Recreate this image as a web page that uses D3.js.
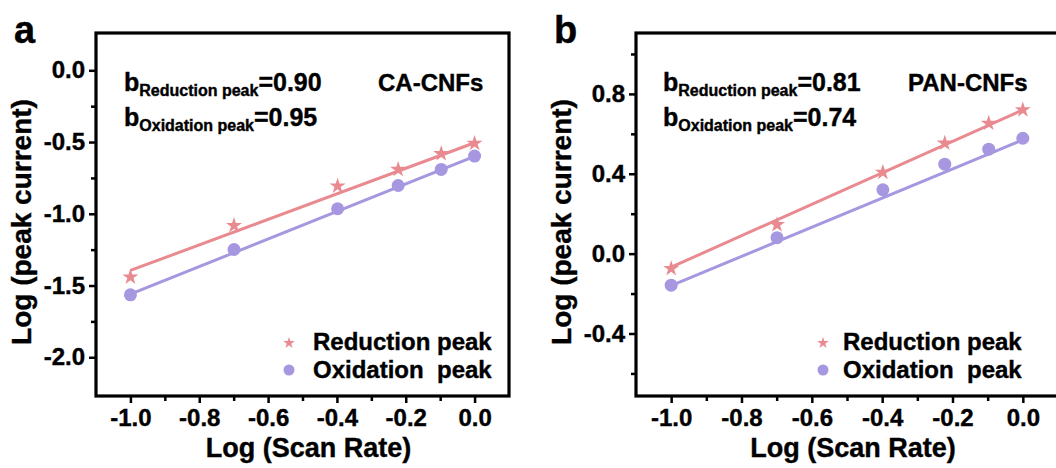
<!DOCTYPE html>
<html lang="en">
<meta charset="utf-8">
<title>Log peak current vs log scan rate</title>
<style>
body { margin: 0; background: #fff; }
svg { display: block; font-family: "Liberation Sans", Arial, sans-serif; font-weight: bold; }
svg text { stroke: #000; stroke-width: 0.4; paint-order: stroke; }
.axis text { font-family: "Liberation Sans", Arial, sans-serif; font-size: 24px; font-weight: bold; fill: #000; }
.axis line { stroke: #000; stroke-width: 2.5; }
.axis path.domain { stroke: none; }
</style>
<body>
<script src="https://d3js.org/d3.v7.min.js"></script>
<script>
// x values: log of the scan rate
var scanLog = [-1.0, -0.699, -0.398, -0.222, -0.097, 0.0]

// panel a, CA-CNFs
var caReduction = [-1.441, -1.082, -0.807, -0.691, -0.581, -0.509]
var caOxidation = [-1.565, -1.249, -0.965, -0.803, -0.691, -0.598]
var caFitReduction = [-1.395, -0.505]   // line value at x = -1 and x = 0
var caFitOxidation = [-1.560, -0.600]

// panel b, PAN-CNFs
var panReduction = [-0.075, 0.145, 0.407, 0.553, 0.653, 0.720]
var panOxidation = [-0.158, 0.080, 0.320, 0.448, 0.523, 0.578]
var panFitReduction = [-0.068, 0.720]
var panFitOxidation = [-0.160, 0.570]

var fitX = [-1.0, 0.0]
var xTicks = [-1.0, -0.8, -0.6, -0.4, -0.2, 0.0]
var xMinor = [-0.9, -0.7, -0.5, -0.3, -0.1]
var caYTicks = [0.0, -0.5, -1.0, -1.5, -2.0]
var caYMinor = [-0.25, -0.75, -1.25, -1.75]
var panYTicks = [0.8, 0.4, 0.0, -0.4]
var panYMinor = [1.0, 0.6, 0.2, -0.2, -0.6]

var bLabels = ["Reduction peak", "Oxidation  peak"]
var caBValues = ["0.90", "0.95"]
var panBValues = ["0.81", "0.74"]
var seriesNames = ["Reduction peak", "Oxidation  peak"]

var pink = "#e98a90", purple = "#a697e0"

var svg = d3.select("body").append("svg")
  .attr("width", 1056)
  .attr("height", 468)

var fmt = function(d) { return d.toFixed(1) }

function drawPanel(p) {
  var x = d3.scaleLinear().domain([-1.1, 0.1]).range([p.left, p.right])
  var y = d3.scaleLinear().domain(p.yDomain).range([396, 33])
  var g = svg.append("g")

  // minor ticks
  g.append("g").attr("class", "axis")
    .attr("transform", "translate(0,396)")
    .call(d3.axisBottom(x).tickValues(xMinor).tickSize(5).tickFormat(""))
  g.append("g").attr("class", "axis")
    .attr("transform", "translate(" + p.left + ",0)")
    .call(d3.axisLeft(y).tickValues(p.yMinor).tickSize(5).tickFormat(""))

  // major ticks
  g.append("g").attr("class", "axis")
    .attr("transform", "translate(0,396)")
    .call(d3.axisBottom(x).tickValues(xTicks).tickSize(7).tickPadding(6).tickFormat(fmt))
  g.append("g").attr("class", "axis")
    .attr("transform", "translate(" + p.left + ",0)")
    .call(d3.axisLeft(y).tickValues(p.yTicks).tickSize(7).tickPadding(4).tickFormat(fmt))

  // frame
  g.append("rect")
    .attr("x", p.left).attr("y", 33)
    .attr("width", p.right - p.left).attr("height", 363)
    .attr("fill", "none").attr("stroke", "#000").attr("stroke-width", 3.2)

  // fitted lines
  var line = d3.line().x(function(d) { return x(d[0]) }).y(function(d) { return y(d[1]) })
  g.append("path").datum(d3.zip(fitX, p.fitRed))
    .attr("d", line).attr("fill", "none").attr("stroke", pink).attr("stroke-width", 3)
  g.append("path").datum(d3.zip(fitX, p.fitOx))
    .attr("d", line).attr("fill", "none").attr("stroke", purple).attr("stroke-width", 3)

  // points
  var star = d3.symbol().type(d3.symbolStar).size(80)
  g.selectAll(".star").data(d3.zip(scanLog, p.red)).enter()
    .append("path")
    .attr("d", star)
    .attr("transform", function(d) { return "translate(" + x(d[0]) + "," + y(d[1]) + ")" })
    .attr("fill", pink)
  g.selectAll(".dot").data(d3.zip(scanLog, p.ox)).enter()
    .append("circle")
    .attr("cx", function(d) { return x(d[0]) })
    .attr("cy", function(d) { return y(d[1]) })
    .attr("r", 6.5)
    .attr("fill", purple)

  // b annotations
  p.bValues.forEach(function(v, i) {
    var t = g.append("text")
      .attr("x", p.annX).attr("y", 91 + i * 35)
    t.append("tspan").attr("font-size", 25).text("b")
    t.append("tspan").attr("font-size", 16).attr("dy", 5).text(bLabels[i])
    t.append("tspan").attr("font-size", 25).attr("dy", -5).text("=" + v)
  })

  g.append("text")
    .attr("x", p.nameX).attr("y", 91)
    .attr("font-size", 24)
    .text(p.name)

  // legend
  g.append("path")
    .attr("d", d3.symbol().type(d3.symbolStar).size(42))
    .attr("transform", "translate(" + p.legX + ",343)")
    .attr("fill", pink)
  g.append("circle")
    .attr("cx", p.legX).attr("cy", 370).attr("r", 5.5)
    .attr("fill", purple)
  seriesNames.forEach(function(s, i) {
    g.append("text")
      .attr("x", p.legX + p.legGap).attr("y", 350 + i * 28)
      .attr("font-size", 24)
      .style("white-space", "pre")
      .text(s)
  })

  // axis titles
  g.append("text")
    .attr("x", (x(-1) + x(0)) / 2 + 6).attr("y", 457)
    .attr("text-anchor", "middle")
    .attr("font-size", 27)
    .text("Log (Scan Rate)")
  g.append("text")
    .attr("transform", "translate(" + (p.left - 65) + ",222) rotate(-90)")
    .attr("text-anchor", "middle")
    .attr("font-size", 28)
    .text("Log (peak current)")

  // panel letter
  g.append("text")
    .attr("x", p.left - 82).attr("y", 43)
    .attr("font-size", 38)
    .text(p.letter)
}

drawPanel({
  left: 96, right: 509, yDomain: [-2.27, 0.26],
  yTicks: caYTicks, yMinor: caYMinor,
  red: caReduction, ox: caOxidation, fitRed: caFitReduction, fitOx: caFitOxidation,
  bValues: caBValues, annX: 124, name: "CA-CNFs", nameX: 378,
  legX: 289, legGap: 24, letter: "a"
})

drawPanel({
  left: 636, right: 1058, yDomain: [-0.713, 1.105],
  yTicks: panYTicks, yMinor: panYMinor,
  red: panReduction, ox: panOxidation, fitRed: panFitReduction, fitOx: panFitOxidation,
  bValues: panBValues, annX: 663, name: "PAN-CNFs", nameX: 908,
  legX: 823, legGap: 20, letter: "b"
})
</script>
</body>
</html>
